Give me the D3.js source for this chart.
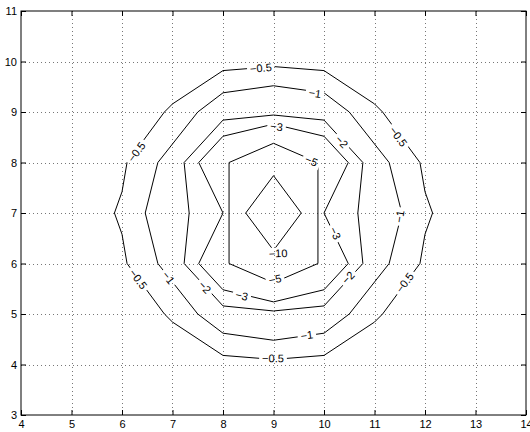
<!DOCTYPE html>
<html><head><meta charset="utf-8">
<script src="https://cdn.jsdelivr.net/npm/d3@7"></script>
<style>
body{margin:0;background:#fff}
svg text{font-family:"Liberation Sans",Arial,Helvetica,sans-serif}
</style>
</head><body>
<svg id="chart" width="530" height="432"></svg>
<script>
// ---- data ----
const xTicks = [4,5,6,7,8,9,10,11,12,13,14];
const yTicks = [3,4,5,6,7,8,9,10,11];
const levels = [-0.5,-1,-2,-3,-5,-10];

const level_05 = [[9,9.9],[10,9.82],[11,9.16],[11.16,9],[11.9,8],[12,7.42],[12.15,7],[12,6.58],[11.9,6],[11.16,5],[11,4.84],[10,4.18],[9,4.1],[8,4.18],[7,4.84],[6.84,5],[6.1,6],[6,6.58],[5.85,7],[6,7.42],[6.1,8],[6.84,9],[7,9.16],[8,9.82]];
const level_1  = [[9,9.52],[10,9.38],[10.5,9],[11.29,8],[11.54,7],[11.29,6],[10.5,5],[10,4.62],[9,4.48],[8,4.62],[7.5,5],[6.71,6],[6.46,7],[6.71,8],[7.5,9],[8,9.38]];
const level_2  = [[9,8.94],[10,8.84],[10.77,8],[10.67,7],[10.77,6],[10,5.16],[9,5.06],[8,5.16],[7.23,6],[7.33,7],[7.23,8],[8,8.84]];
const level_3  = [[9,8.76],[10,8.52],[10.48,8],[10,7],[10.48,6],[10,5.48],[9,5.24],[8,5.48],[7.52,6],[8,7],[7.52,8],[8,8.52]];
const level_5  = [[9,8.38],[9.88,8],[9.88,7],[9.88,6],[9,5.62],[8.12,6],[8.12,7],[8.12,8]];
const level_10 = [[9,7.74],[9.55,7],[9,6.26],[8.45,7]];

const labelLevel = [-0.5,-1,-0.5,-0.5,-3,-2,-5,-1,-3,-10,-5,-2,-0.5,-1,-0.5,-3,-2,-1,-0.5];
const labelX     = [8.75,9.82,6.29,11.47,9.06,10.35,9.75,11.5,10.22,9.09,9.03,10.48,11.6,9.66,8.99,8.37,7.64,6.92,6.32];
const labelY     = [9.87,9.37,8.21,8.51,8.71,8.41,8.03,6.93,6.6,6.2,5.69,5.72,5.62,4.58,4.12,5.36,5.53,5.72,5.69];

// ---- build ----
const paths = [level_05, level_1, level_2, level_3, level_5, level_10];
const contours = levels.map((lv,i)=>({level:lv, pts:paths[i]}));
const labels = labelLevel.map((lv,i)=>({level:lv, x:labelX[i], y:labelY[i]}));

const svg = d3.select("#chart");
const x = d3.scaleLinear().domain([4,14]).range([21,526]);
const y = d3.scaleLinear().domain([3,11]).range([415,11]);
const fmtLabel = v => (v<0 ? "\u2212" : "") + String(Math.abs(v));

// grid
const grid = svg.append("g").attr("stroke","#777").attr("stroke-width",1).attr("stroke-dasharray","1,3");
grid.selectAll("line.gx").data(xTicks.slice(1,-1)).join("line")
  .attr("x1",d=>Math.round(x(d))+0.5).attr("x2",d=>Math.round(x(d))+0.5)
  .attr("y1",y(11)).attr("y2",y(3));
grid.selectAll("line.gy").data(yTicks.slice(1,-1)).join("line")
  .attr("y1",d=>Math.round(y(d))+0.5).attr("y2",d=>Math.round(y(d))+0.5)
  .attr("x1",x(4)).attr("x2",x(14));

// axes
function styleAxis(g){
  g.select(".domain").remove();
  g.selectAll("text").attr("font-size","11px").attr("fill","#000")
    .attr("font-family","'Liberation Sans',Arial,sans-serif");
  g.selectAll("line").attr("stroke","#000");
}
svg.append("g").attr("transform",`translate(0,${y(3)})`)
  .call(d3.axisBottom(x).tickValues(xTicks).tickFormat(d3.format("d")).tickSizeInner(-5).tickSizeOuter(0).tickPadding(5))
  .call(styleAxis);
svg.append("g").attr("transform",`translate(${x(4)},0)`)
  .call(d3.axisLeft(y).tickValues(yTicks).tickFormat(d3.format("d")).tickSizeInner(-5).tickSizeOuter(0).tickPadding(4))
  .call(styleAxis);
svg.append("g").attr("transform",`translate(0,${y(11)})`)
  .call(d3.axisTop(x).tickValues(xTicks).tickFormat("").tickSizeInner(-5).tickSizeOuter(0))
  .call(styleAxis);
svg.append("g").attr("transform",`translate(${x(14)},0)`)
  .call(d3.axisRight(y).tickValues(yTicks).tickFormat("").tickSizeInner(-5).tickSizeOuter(0))
  .call(styleAxis);

// box
svg.append("rect").attr("x",x(4)).attr("y",y(11)).attr("width",x(14)-x(4)).attr("height",y(3)-y(11))
  .attr("fill","none").attr("stroke","#000").attr("stroke-width",1);

// contour label geometry helpers
function polyPx(pts){ return pts.map(p=>[x(p[0]),y(p[1])]); }
function geom(P){
  const n=P.length, cum=[0];
  for(let i=0;i<n;i++){const a=P[i],b=P[(i+1)%n];cum.push(cum[i]+Math.hypot(b[0]-a[0],b[1]-a[1]));}
  return {P,n,cum,total:cum[n]};
}
function project(G,q){
  let best={d:Infinity,s:0};
  for(let i=0;i<G.n;i++){
    const a=G.P[i],b=G.P[(i+1)%G.n];
    const vx=b[0]-a[0],vy=b[1]-a[1],L2=vx*vx+vy*vy;
    let t=((q[0]-a[0])*vx+(q[1]-a[1])*vy)/L2; t=Math.max(0,Math.min(1,t));
    const px=a[0]+t*vx,py=a[1]+t*vy,d=Math.hypot(q[0]-px,q[1]-py);
    if(d<best.d-1e-9) best={d,s:G.cum[i]+t*(G.cum[i+1]-G.cum[i])};
  }
  return best.s;
}
function pointAt(G,s){
  s=((s%G.total)+G.total)%G.total;
  for(let i=0;i<G.n;i++){
    if(s<=G.cum[i+1]){
      const a=G.P[i],b=G.P[(i+1)%G.n],L=G.cum[i+1]-G.cum[i];
      const t=L>0?(s-G.cum[i])/L:0;
      return [a[0]+t*(b[0]-a[0]),a[1]+t*(b[1]-a[1])];
    }
  }
  return G.P[0];
}

// labels (text first, to measure)
const labelG = svg.append("g");
const placed = labels.map(l=>{
  const c = contours.find(c=>c.level===l.level);
  const G = geom(polyPx(c.pts));
  const cx=x(l.x), cy=y(l.y);
  const t = labelG.append("text").attr("text-anchor","middle").attr("dy","0.35em")
    .attr("font-size","11px").attr("fill","#000").text(fmtLabel(l.level));
  const w = t.node().getComputedTextLength();
  const s = project(G,[cx,cy]);
  const p1 = pointAt(G,s-w/2), p2 = pointAt(G,s+w/2);
  let ang = Math.atan2(p2[1]-p1[1],p2[0]-p1[0])*180/Math.PI;
  if(ang>90) ang-=180; if(ang<-90) ang+=180;
  t.attr("transform",`translate(${cx},${cy}) rotate(${ang})`);
  return {cx,cy,w,ang};
});

// mask for gaps in contour lines
const defs = svg.append("defs");
const mask = defs.append("mask").attr("id","gapMask").attr("maskUnits","userSpaceOnUse")
  .attr("x",0).attr("y",0).attr("width",530).attr("height",432);
mask.append("rect").attr("x",0).attr("y",0).attr("width",530).attr("height",432).attr("fill","#fff");
mask.selectAll("rect.g").data(placed).join("rect").attr("class","g")
  .attr("x",d=>-d.w/2-3).attr("y",-6).attr("width",d=>d.w+6).attr("height",12)
  .attr("transform",d=>`translate(${d.cx},${d.cy}) rotate(${d.ang})`).attr("fill","#000");

// contour lines
const line = d3.line().x(d=>x(d[0])).y(d=>y(d[1])).curve(d3.curveLinearClosed);
svg.insert("g", () => labelG.node()).attr("mask","url(#gapMask)")
  .selectAll("path").data(contours).join("path")
  .attr("d",d=>line(d.pts)).attr("fill","none").attr("stroke","#000").attr("stroke-width",1)
  .attr("stroke-linejoin","round");
</script>
</body></html>
